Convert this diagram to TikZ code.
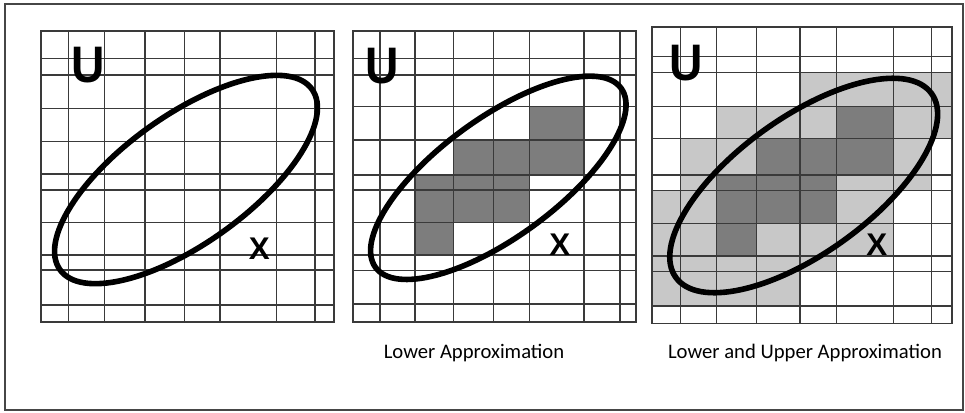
\documentclass[tikz,border=0pt]{standalone}
\usepackage{fontspec}
\setmainfont{Liberation Sans}
\newfontfamily\capfont{Carlito}
\definecolor{gridline}{RGB}{58,58,58}
\definecolor{framecol}{RGB}{70,70,70}
\definecolor{lowercell}{RGB}{125,125,125}
\definecolor{uppercell}{RGB}{200,200,200}
\begin{document}
\begin{tikzpicture}[x=0.75pt,y=-0.75pt,
  frameline/.style={draw=framecol,line width=1.5pt},
  gridln/.style={draw=gridline,line width=0.95pt},
  panelborder/.style={draw=gridline,line width=1.3pt},
  lowfill/.style={fill=lowercell},
  upfill/.style={fill=uppercell},
  setline/.style={draw=black,line width=4.2pt},
  ulabel/.style={inner sep=0pt,anchor=base,xscale=0.9,font=\bfseries\fontsize{38.5}{40}\selectfont},
  xlabel/.style={inner sep=0pt,anchor=base,font=\bfseries\fontsize{23.5}{24}\selectfont},
  caption/.style={inner sep=0pt,anchor=base,text=black,font=\capfont\fontsize{15.5}{16}\selectfont}]
\useasboundingbox (0,0) rectangle (965,412);
\draw[frameline] (5,4) rectangle (963,410);

% ---------- panel 1 ----------
\foreach \x in {68.3,104.3,145,184.3,220,276.7,315}
  \draw[gridln] (\x,30.7) -- (\x,321.7);
\foreach \y in {58.3,75,108.3,141.7,174,190,222.7,255,270,305}
  \draw[gridln] (41,\y) -- (334,\y);
\draw[panelborder] (41,30.7) rectangle (334,321.7);
\draw[setline,rotate around={35.6:(186,179.5)}] (186,179.5) ellipse [x radius=155, y radius=64];
\node[ulabel] (u1) at (88.5,82.5) {U};
\node[xlabel] (x1) at (259.3,259) {X};

% ---------- panel 2 ----------
\fill[lowfill] (529.3,106.7) rectangle (584,175);
\fill[lowfill] (453.3,140) rectangle (529.3,175);
\fill[lowfill] (415,175) rectangle (529.3,222.7);
\fill[lowfill] (415,222.7) rectangle (453.3,255);
\foreach \x in {380,415,453.3,493.3,529.3,584,620}
  \draw[gridln] (\x,30.7) -- (\x,321.7);
\foreach \y in {58.3,75,106.7,140,175,190,222.7,255,270.7,304}
  \draw[gridln] (352.7,\y) -- (636,\y);
\draw[panelborder] (352.7,30.7) rectangle (636,321.7);
\draw[setline,rotate around={36.1:(498.3,177.8)}] (498.3,177.8) ellipse [x radius=152, y radius=59.5];
\node[ulabel] (u2) at (382.5,83.5) {U};
\node[xlabel] (x2) at (559.7,255) {X};
\node[caption] (c2) at (474,358) {Lower Approximation};

% ---------- panel 3 ----------
\fill[upfill] (800,72.8) rectangle (951.7,106.3);
\fill[upfill] (716.8,106.3) rectangle (836.3,138.5);
\fill[upfill] (893.5,106.3) rectangle (951.7,138.5);
\fill[upfill] (680.5,138.5) rectangle (756.5,175);
\fill[upfill] (893.5,138.5) rectangle (931.7,175);
\fill[upfill] (680.5,175) rectangle (716.8,190.7);
\fill[upfill] (836.3,175) rectangle (931.7,190.7);
\fill[upfill] (651.7,190.7) rectangle (716.8,223.2);
\fill[upfill] (836.3,190.7) rectangle (893.5,223.2);
\fill[upfill] (651.7,223.2) rectangle (716.8,256);
\fill[upfill] (756.5,223.2) rectangle (893.5,256);
\fill[upfill] (651.7,256) rectangle (836.3,271.7);
\fill[upfill] (651.7,271.7) rectangle (800,306);
\fill[lowfill] (836.3,106.3) rectangle (893.5,175);
\fill[lowfill] (756.5,138.5) rectangle (836.3,175);
\fill[lowfill] (716.8,175) rectangle (836.3,223.2);
\fill[lowfill] (716.8,223.2) rectangle (756.5,256);
\foreach \x in {680.5,716.8,756.5,800,836.3,893.5,931.7}
  \draw[gridln] (\x,27) -- (\x,323.5);
\foreach \y in {56.3,72.8,106.3,138.5,175,190.7,223.2,256,271.7,306}
  \draw[gridln] (651.7,\y) -- (951.7,\y);
\draw[panelborder] (651.7,27) rectangle (951.7,323.5);
\draw[setline,rotate around={35.7:(803.7,185.5)}] (803.7,185.5) ellipse [x radius=157.5, y radius=68];
\node[ulabel] (u3) at (685.7,80.5) {U};
\node[xlabel] (x3) at (876.7,255) {X};
\node[caption] (c3) at (805,358) {Lower and Upper Approximation};
\end{tikzpicture}
\end{document}
